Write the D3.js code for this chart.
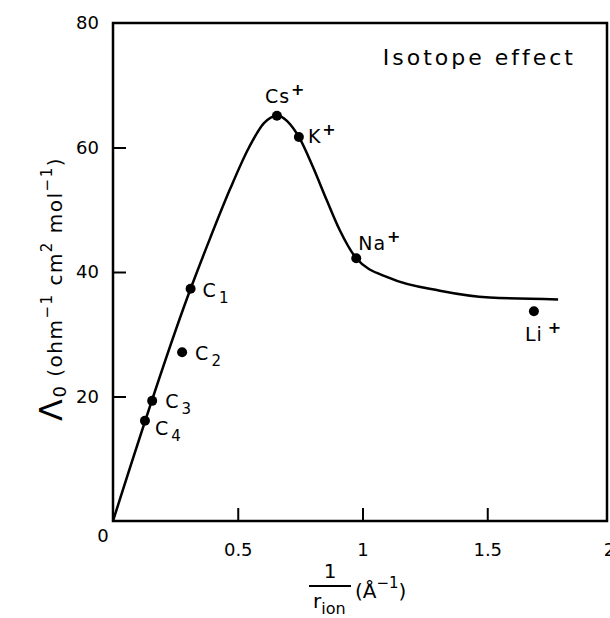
<!DOCTYPE html>
<html>
<head>
<meta charset="utf-8">
<script src="https://cdn.jsdelivr.net/npm/d3@7"></script>
<style>
  body { margin: 0; background: #fff; }
  svg { display: block; font-family: 'DejaVu Sans', sans-serif; }
</style>
</head>
<body>
<div id="chart"></div>
<script>
// ions (filled points with labels)
const ionNames = ['Cs', 'K', 'Na', 'Li'];
const ionX = [0.657, 0.745, 0.975, 1.687];
const ionY = [65.1, 61.7, 42.2, 33.7];

// C1..C4 points
const carbSubs = ['1', '2', '3', '4'];
const carbX = [0.311, 0.277, 0.157, 0.128];
const carbY = [37.3, 27.1, 19.3, 16.1];

// the drawn curve
const curveX = [0, 0.311, 0.389, 0.470, 0.545, 0.605, 0.657, 0.745, 0.801, 0.856, 0.909, 0.975, 1.110, 1.310, 1.510, 1.784];
const curveY = [0, 37.3, 45.4, 53.4, 60.0, 63.9, 65.1, 61.7, 56.9, 51.6, 46.7, 42.2, 39.0, 37.0, 35.9, 35.6];

const xTicks = [0.5, 1, 1.5, 2];
const yTicks = [20, 40, 60, 80];

// label placement relative to each dot (px)
const ionLabelOff = [[-12, -13], [9, 6], [2, -8], [-9, 30]];
const carbLabelOff = [[12, 8], [13, 8], [13, 7], [10, 14]];

const W = 610, H = 618;
const x = d3.scaleLinear().domain([0, 2]).range([113, 612]);
const y = d3.scaleLinear().domain([0, 80]).range([521, 23]);
const frameRight = 607;

const svg = d3.select('#chart').append('svg')
  .attr('width', W).attr('height', H);

// frame
svg.append('rect')
  .attr('x', x(0)).attr('y', y(80))
  .attr('width', frameRight - x(0)).attr('height', y(0) - y(80))
  .attr('fill', 'none').attr('stroke', '#000').attr('stroke-width', 2.5);

// axes, ticks pointing inward
const xAxis = svg.append('g')
  .attr('transform', `translate(0,${y(0)})`)
  .call(d3.axisBottom(x).tickValues(xTicks).tickSizeInner(-13).tickSizeOuter(0).tickPadding(14)
    .tickFormat(d => String(d)));
const yAxis = svg.append('g')
  .attr('transform', `translate(${x(0)},0)`)
  .call(d3.axisLeft(y).tickValues(yTicks).tickSizeInner(-13).tickSizeOuter(0).tickPadding(14));

[xAxis, yAxis].forEach(g => {
  g.select('.domain').remove();
  g.selectAll('.tick line').attr('stroke', '#000').attr('stroke-width', 2);
  g.selectAll('.tick text').attr('fill', '#000').style('font-size', '18px')
    .style('font-family', "'DejaVu Sans', sans-serif");
});
xAxis.selectAll('.tick text').attr('dy', '1.15em');
// the 80 and 2 ticks sit on the frame; drop their marks
yAxis.selectAll('.tick').filter(d => d === 80).select('line').remove();
const lastX = xAxis.selectAll('.tick').filter(d => d === 2);
lastX.select('line').remove();
lastX.select('text').attr('dx', -3);

// origin label
svg.append('text')
  .attr('x', x(0) - 10).attr('y', y(0) + 21)
  .attr('text-anchor', 'middle')
  .style('font-size', '18px')
  .text('0');

// curve
const line = d3.line()
  .x(d => x(d[0])).y(d => y(d[1]))
  .curve(d3.curveMonotoneX);
svg.append('path')
  .datum(curveX.map((v, i) => [v, curveY[i]]))
  .attr('d', line)
  .attr('fill', 'none').attr('stroke', '#000').attr('stroke-width', 2.5);

// ion dots and labels
ionNames.forEach((name, i) => {
  const cx = x(ionX[i]), cy = y(ionY[i]);
  svg.append('circle').attr('cx', cx).attr('cy', cy).attr('r', 5).attr('fill', '#000');
  const t = svg.append('text')
    .attr('x', cx + ionLabelOff[i][0]).attr('y', cy + ionLabelOff[i][1])
    .style('font-size', '19px').style('letter-spacing', '1px');
  t.append('tspan').text(name);
  t.append('tspan').attr('dx', name === 'Li' ? 5 : 1).attr('dy', -8).style('font-size', '16px').style('font-weight', 'bold').text('+');
});

// C1..C4 dots and labels
carbSubs.forEach((s, i) => {
  const cx = x(carbX[i]), cy = y(carbY[i]);
  svg.append('circle').attr('cx', cx).attr('cy', cy).attr('r', 5).attr('fill', '#000');
  const t = svg.append('text')
    .attr('x', cx + carbLabelOff[i][0]).attr('y', cy + carbLabelOff[i][1])
    .style('font-size', '19px');
  t.append('tspan').text('C');
  t.append('tspan').attr('dx', 3).attr('dy', 6).style('font-size', '15px').text(s);
});

// title
svg.append('text')
  .attr('x', 576).attr('y', 65)
  .attr('text-anchor', 'end')
  .style('font-size', '22px').style('letter-spacing', '3px')
  .text('Isotope effect');

// y axis title
const yt = svg.append('text')
  .attr('transform', 'translate(62,289) rotate(-90)')
  .attr('text-anchor', 'middle')
  .style('font-size', '20px').style('letter-spacing', '1.5px');
yt.append('tspan').style('font-size', '32px').text('\u039B');
yt.append('tspan').attr('dy', 4).style('font-size', '18px').text('0');
yt.append('tspan').attr('dy', -4).text(' (ohm');
yt.append('tspan').attr('dy', -10).style('font-size', '15px').text('\u22121');
yt.append('tspan').attr('dy', 10).text(' cm');
yt.append('tspan').attr('dy', -10).style('font-size', '15px').text('2');
yt.append('tspan').attr('dy', 10).text(' mol');
yt.append('tspan').attr('dy', -10).style('font-size', '15px').text('\u22121');
yt.append('tspan').attr('dy', 10).text(')');

// x axis title: 1 / r_ion (Å^-1)
svg.append('text')
  .attr('x', 330).attr('y', 578).attr('text-anchor', 'middle')
  .style('font-size', '20px').text('1');
svg.append('line')
  .attr('x1', 309).attr('x2', 351).attr('y1', 586).attr('y2', 586)
  .attr('stroke', '#000').attr('stroke-width', 2);
const rt = svg.append('text')
  .attr('x', 313).attr('y', 608).style('font-size', '20px');
rt.append('tspan').text('r');
rt.append('tspan').attr('dy', 6).style('font-size', '16px').text('ion');
const at = svg.append('text')
  .attr('x', 355).attr('y', 598).style('font-size', '20px');
at.append('tspan').text('(\u00C5');
at.append('tspan').attr('dy', -10).style('font-size', '15px').text('\u22121');
at.append('tspan').attr('dy', 10).text(')');
</script>
</body>
</html>
